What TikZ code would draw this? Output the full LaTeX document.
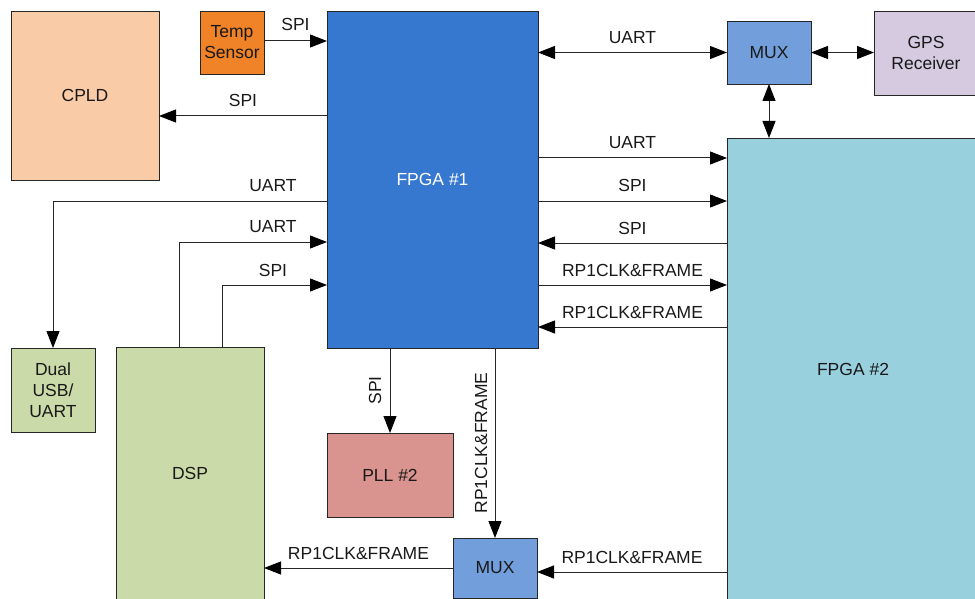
\documentclass[tikz,border=0pt]{standalone}
\usepackage{fontspec}
\setmainfont{Liberation Sans}
\usetikzlibrary{arrows.meta}
\definecolor{cpldc}{HTML}{F9CBA7}
\definecolor{tempc}{HTML}{F08228}
\definecolor{fpgaonec}{HTML}{3677CF}
\definecolor{muxc}{HTML}{729FDB}
\definecolor{gpsc}{HTML}{D5CAE0}
\definecolor{fpgatwoc}{HTML}{98D0DE}
\definecolor{greenc}{HTML}{CBDAA9}
\definecolor{pllc}{HTML}{DA9490}
\begin{document}
\begin{tikzpicture}[x=1pt,y=-1pt,
  box/.style={draw=black!85, line width=0.9pt, inner sep=0pt, outer sep=0pt,
    font=\fontsize{17.5}{21}\selectfont, align=center, text=black!90},
  arr/.style={-{Triangle[length=17pt,width=13pt,color=black]}, line width=1pt, draw=black!85},
  darr/.style={{Triangle[length=17pt,width=13pt,color=black]}-{Triangle[length=17pt,width=13pt,color=black]}, line width=1pt, draw=black!85},
  lbl/.style={font=\fontsize{17.5}{21}\selectfont, anchor=base, inner sep=0pt, text=black!90},
]
\useasboundingbox (0,0) rectangle (975,599);

% boxes
\node[box, fill=cpldc, minimum width=148pt, minimum height=169pt] (cpld) at (85,95.5) {CPLD};
\node[box, fill=tempc, minimum width=64pt, minimum height=63pt] (temp) at (232,42.5) {Temp\\Sensor};
\node[box, fill=fpgaonec, text=white, minimum width=211pt, minimum height=337pt] (fpga1) at (432.5,179.5) {FPGA \#1};
\node[box, fill=muxc, minimum width=84pt, minimum height=63pt] (muxt) at (769,52.5) {MUX};
\node[box, fill=gpsc, minimum width=104pt, minimum height=84pt] (gps) at (926,53) {GPS\\Receiver};
\node[box, fill=fpgatwoc, minimum width=252pt, minimum height=462pt] (fpga2) at (853,369) {FPGA \#2};
\node[box, fill=greenc, minimum width=84pt, minimum height=84pt] (dual) at (53,390) {Dual\\USB/\\UART};
\node[box, fill=greenc, minimum width=148pt, minimum height=252pt] (dsp) at (190,473) {DSP};
\node[box, fill=pllc, minimum width=126pt, minimum height=84pt] (pll) at (390,475) {PLL \#2};
\node[box, fill=muxc, minimum width=84pt, minimum height=60pt] (muxb) at (495,568) {MUX};

% left side connectors
\draw[arr] (temp.east |- 0,41) -- (fpga1.west |- 0,41) node[lbl, midway, yshift=10pt] {SPI};
\draw[arr] (fpga1.west |- 0,116) -- (cpld.east |- 0,116) node[lbl, midway, yshift=9pt] {SPI};
\draw[arr] (fpga1.west |- 0,201) -| (dual.north);
\node[lbl] (luart1) at (273,192) {UART};
\draw[arr] (dsp.north -| 179,0) |- (fpga1.west |- 0,242);
\node[lbl] (luart2) at (273,233) {UART};
\draw[arr] (dsp.north -| 222,0) |- (fpga1.west |- 0,285);
\node[lbl] (lspi3) at (273,276) {SPI};

% top right connectors
\draw[darr] (fpga1.east |- muxt.west) -- (muxt.west) node[lbl, midway, yshift=9pt] {UART};
\draw[darr] (muxt.east) -- (gps.west |- muxt.east);
\draw[darr] (muxt.south) -- (fpga2.north -| muxt.south);

% FPGA1 <-> FPGA2
\draw[arr] (fpga1.east |- 0,158) -- (fpga2.west |- 0,158) node[lbl, midway, yshift=9pt] {UART};
\draw[arr] (fpga1.east |- 0,201) -- (fpga2.west |- 0,201) node[lbl, midway, yshift=9pt] {SPI};
\draw[arr] (fpga2.west |- 0,243) -- (fpga1.east |- 0,243) node[lbl, midway, yshift=9pt] {SPI};
\draw[arr] (fpga1.east |- 0,285) -- (fpga2.west |- 0,285) node[lbl, midway, yshift=9pt] {RP1CLK\&FRAME};
\draw[arr] (fpga2.west |- 0,327) -- (fpga1.east |- 0,327) node[lbl, midway, yshift=9pt] {RP1CLK\&FRAME};

% bottom connectors
\draw[arr] (fpga1.south -| pll.north) -- (pll.north);
\node[lbl, rotate=90] (lspi4) at (381,390.5) {SPI};
\draw[arr] (fpga1.south -| muxb.north) -- (muxb.north);
\node[lbl, rotate=90] (lrp3) at (487,443) {RP1CLK\&FRAME};
\draw[arr] (fpga2.west |- 0,572) -- (muxb.east |- 0,572) node[lbl, midway, yshift=9pt] {RP1CLK\&FRAME};
\draw[arr] (muxb.west |- 0,568) -- (dsp.east |- 0,568) node[lbl, midway, yshift=9pt] {RP1CLK\&FRAME};
\end{tikzpicture}
\end{document}
